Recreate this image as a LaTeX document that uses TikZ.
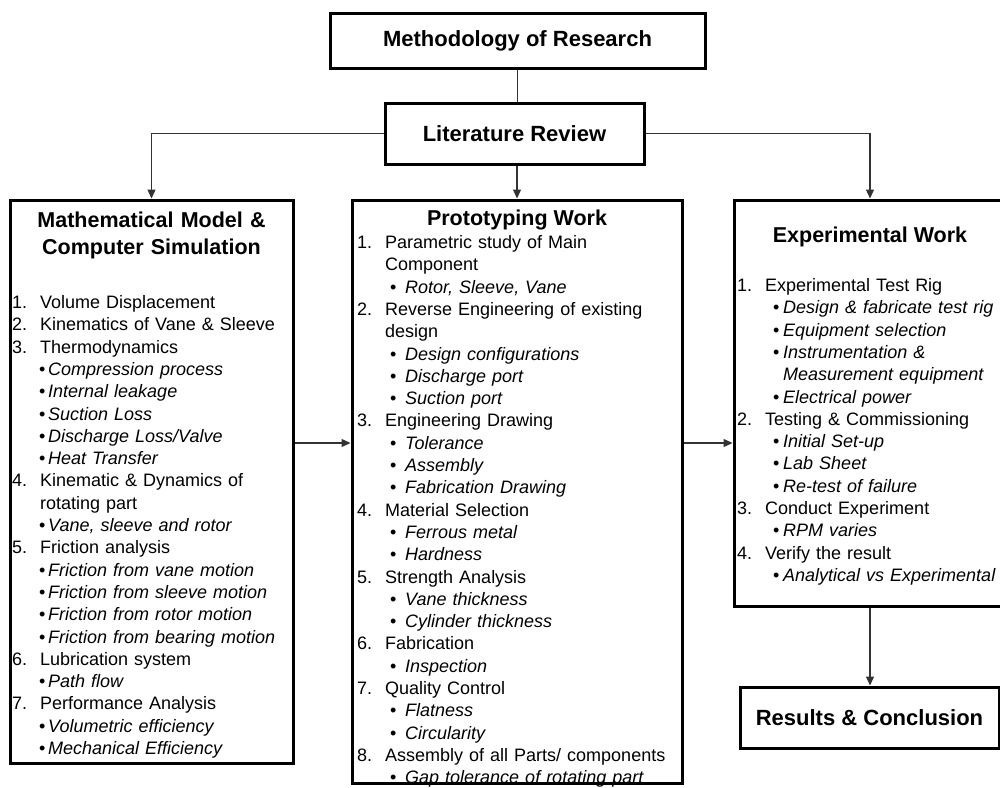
\documentclass[tikz,border=0pt]{standalone}
\usepackage{fontspec}
\setmainfont{Liberation Sans}
\usetikzlibrary{arrows.meta}

\newcommand{\nitem}[2]{\makebox[28pt][l]{#1}#2}
\newcommand{\bitem}[3]{\hspace*{#1}\makebox[#2][l]{\textbullet}\textit{#3}}

\tikzset{
  box/.style={draw, line width=3pt, inner sep=0pt},
  arr/.style={line width=1.3pt, draw=black!80, -{Triangle[length=9pt,width=8pt]}},
  lnk/.style={line width=1.3pt, draw=black!80},
  title/.style={font=\bfseries\fontsize{21.5}{27}\selectfont, inner sep=0pt},
  head/.style={font=\bfseries\fontsize{22}{26}\selectfont},
  list/.style={font=\fontsize{18}{22.3}\selectfont, inner sep=0pt, text width=420pt, align=left, anchor=north west}
}

\begin{document}
\begin{tikzpicture}[x=1pt,y=-1pt]
    \useasboundingbox (0,0) rectangle (1000,787);

    % top of the chart
    \node[box, head, minimum width=375pt, minimum height=55pt] (meth) at (517.5,40.5) {Methodology of Research};
    \node[box, head, minimum width=259pt, minimum height=61pt] (lit) at (514.5,133.5) {Literature Review};

    % the three columns
    \node[box, minimum width=283pt, minimum height=563pt] (model) at (151.5,481.5) {};
    \node[box, minimum width=330pt, minimum height=583pt] (proto) at (517,491.5) {};
    \node[box, minimum width=272pt, minimum height=406pt] (expt) at (870,403) {};
    \node[box, head, minimum width=259pt, minimum height=61pt] (result) at (869.5,717.5) {Results \& Conclusion};

    \node[title, text width=280pt, align=center, anchor=north] (model title) at (151.5,208.8) {\strut Mathematical Model \&\\Computer Simulation};
    \node[title, anchor=base] (proto title) at (517,225.7) {Prototyping Work};
    \node[title, anchor=base] (expt title) at (870,242.7) {Experimental Work};

    \node[list] (model list) at (12,292.7) {\strut\nitem{1.}{Volume Displacement}\\
      \nitem{2.}{Kinematics of Vane \& Sleeve}\\
      \nitem{3.}{Thermodynamics}\\
      \bitem{27pt}{9pt}{Compression process}\\
      \bitem{27pt}{9pt}{Internal leakage}\\
      \bitem{27pt}{9pt}{Suction Loss}\\
      \bitem{27pt}{9pt}{Discharge Loss/Valve}\\
      \bitem{27pt}{9pt}{Heat Transfer}\\
      \nitem{4.}{Kinematic \& Dynamics of}\\
      \hspace*{28pt}rotating part\\
      \bitem{27pt}{9pt}{Vane, sleeve and rotor}\\
      \nitem{5.}{Friction analysis}\\
      \bitem{27pt}{9pt}{Friction from vane motion}\\
      \bitem{27pt}{9pt}{Friction from sleeve motion}\\
      \bitem{27pt}{9pt}{Friction from rotor motion}\\
      \bitem{27pt}{9pt}{Friction from bearing motion}\\
      \nitem{6.}{Lubrication system}\\
      \bitem{27pt}{9pt}{Path flow}\\
      \nitem{7.}{Performance Analysis}\\
      \bitem{27pt}{9pt}{Volumetric efficiency}\\
      \bitem{27pt}{9pt}{Mechanical Efficiency}};

    \node[list] (proto list) at (357,232.7) {\strut\nitem{1.}{Parametric study of Main}\\
      \hspace*{28pt}Component\\
      \bitem{33pt}{15pt}{Rotor, Sleeve, Vane}\\
      \nitem{2.}{Reverse Engineering of existing}\\
      \hspace*{28pt}design\\
      \bitem{33pt}{15pt}{Design configurations}\\
      \bitem{33pt}{15pt}{Discharge port}\\
      \bitem{33pt}{15pt}{Suction port}\\
      \nitem{3.}{Engineering Drawing}\\
      \bitem{33pt}{15pt}{Tolerance}\\
      \bitem{33pt}{15pt}{Assembly}\\
      \bitem{33pt}{15pt}{Fabrication Drawing}\\
      \nitem{4.}{Material Selection}\\
      \bitem{33pt}{15pt}{Ferrous metal}\\
      \bitem{33pt}{15pt}{Hardness}\\
      \nitem{5.}{Strength Analysis}\\
      \bitem{33pt}{15pt}{Vane thickness}\\
      \bitem{33pt}{15pt}{Cylinder thickness}\\
      \nitem{6.}{Fabrication}\\
      \bitem{33pt}{15pt}{Inspection}\\
      \nitem{7.}{Quality Control}\\
      \bitem{33pt}{15pt}{Flatness}\\
      \bitem{33pt}{15pt}{Circularity}\\
      \nitem{8.}{Assembly of all Parts/ components}\\
      \bitem{33pt}{15pt}{Gap tolerance of rotating part}};

    \node[list] (expt list) at (737,275.7) {\strut\nitem{1.}{Experimental Test Rig}\\
      \bitem{36pt}{10pt}{Design \& fabricate test rig}\\
      \bitem{36pt}{10pt}{Equipment selection}\\
      \bitem{36pt}{10pt}{Instrumentation \&}\\
      \hspace*{46pt}\textit{Measurement equipment}\\
      \bitem{36pt}{10pt}{Electrical power}\\
      \nitem{2.}{Testing \& Commissioning}\\
      \bitem{36pt}{10pt}{Initial Set-up}\\
      \bitem{36pt}{10pt}{Lab Sheet}\\
      \bitem{36pt}{10pt}{Re-test of failure}\\
      \nitem{3.}{Conduct Experiment}\\
      \bitem{36pt}{10pt}{RPM varies}\\
      \nitem{4.}{Verify the result}\\
      \bitem{36pt}{10pt}{Analytical vs Experimental}};

    % connectors
    \draw[lnk] (meth.south) -- (meth.south |- lit.north);
    \draw[arr] (lit.west) -| (model.north);
    \draw[arr] (lit.east) -| (expt.north);
    \draw[arr] (proto.north |- lit.south) -- (proto.north);
    \coordinate (row) at (0,443);
    \draw[arr] (model.east |- row) -- (proto.west |- row);
    \draw[arr] (proto.east |- row) -- (expt.west |- row);
    \draw[arr] (expt.south) -- (expt.south |- result.north);

\end{tikzpicture}
\end{document}
